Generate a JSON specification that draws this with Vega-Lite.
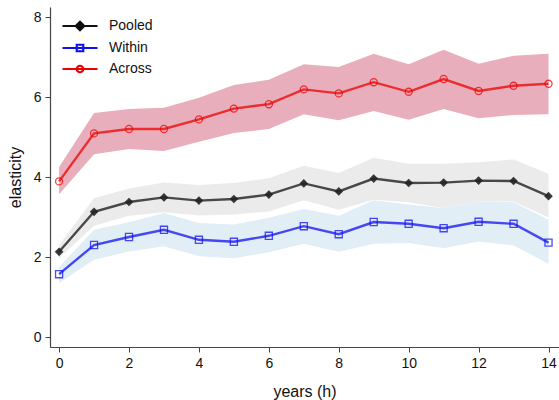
{
  "$schema": "https://vega.github.io/schema/vega-lite/v6.json",
  "width": 509,
  "height": 340,
  "autosize": "none",
  "padding": {"left": 50, "top": 7, "right": 0, "bottom": 53},
  "background": "white",
  "config": {
    "font": "Liberation Sans",
    "view": {"stroke": null},
    "axis": {"grid": false, "domainColor": "#444", "tickColor": "#444", "labelColor": "#111", "titleColor": "#111", "labelFontSize": 14, "titleFontSize": 16, "titleFontWeight": "normal", "tickSize": 5, "domainWidth": 1.2}
  },
  "data": {"values": [
    {"h":0,"s":"Across","est":3.89,"lo":3.57,"hi":4.25},
    {"h":1,"s":"Across","est":5.09,"lo":4.57,"hi":5.6},
    {"h":2,"s":"Across","est":5.2,"lo":4.7,"hi":5.7},
    {"h":3,"s":"Across","est":5.2,"lo":4.65,"hi":5.73},
    {"h":4,"s":"Across","est":5.44,"lo":4.88,"hi":5.98},
    {"h":5,"s":"Across","est":5.71,"lo":5.1,"hi":6.3},
    {"h":6,"s":"Across","est":5.82,"lo":5.2,"hi":6.43},
    {"h":7,"s":"Across","est":6.19,"lo":5.57,"hi":6.82},
    {"h":8,"s":"Across","est":6.09,"lo":5.42,"hi":6.75},
    {"h":9,"s":"Across","est":6.37,"lo":5.65,"hi":7.08},
    {"h":10,"s":"Across","est":6.13,"lo":5.43,"hi":6.82},
    {"h":11,"s":"Across","est":6.45,"lo":5.7,"hi":7.18},
    {"h":12,"s":"Across","est":6.15,"lo":5.47,"hi":6.83},
    {"h":13,"s":"Across","est":6.28,"lo":5.55,"hi":7.03},
    {"h":14,"s":"Across","est":6.33,"lo":5.57,"hi":7.08},
    {"h":0,"s":"Pooled","est":2.13,"lo":1.97,"hi":2.3},
    {"h":1,"s":"Pooled","est":3.13,"lo":2.78,"hi":3.47},
    {"h":2,"s":"Pooled","est":3.375,"lo":3.03,"hi":3.71},
    {"h":3,"s":"Pooled","est":3.49,"lo":3.12,"hi":3.86},
    {"h":4,"s":"Pooled","est":3.41,"lo":3.04,"hi":3.8},
    {"h":5,"s":"Pooled","est":3.45,"lo":3.06,"hi":3.85},
    {"h":6,"s":"Pooled","est":3.56,"lo":3.14,"hi":3.97},
    {"h":7,"s":"Pooled","est":3.84,"lo":3.42,"hi":4.28},
    {"h":8,"s":"Pooled","est":3.64,"lo":3.18,"hi":4.1},
    {"h":9,"s":"Pooled","est":3.96,"lo":3.43,"hi":4.48},
    {"h":10,"s":"Pooled","est":3.85,"lo":3.37,"hi":4.33},
    {"h":11,"s":"Pooled","est":3.86,"lo":3.22,"hi":4.33},
    {"h":12,"s":"Pooled","est":3.91,"lo":3.39,"hi":4.37},
    {"h":13,"s":"Pooled","est":3.9,"lo":3.39,"hi":4.44},
    {"h":14,"s":"Pooled","est":3.52,"lo":2.99,"hi":4.08},
    {"h":0,"s":"Within","est":1.57,"lo":1.35,"hi":1.75},
    {"h":1,"s":"Within","est":2.3,"lo":1.93,"hi":2.68},
    {"h":2,"s":"Within","est":2.5,"lo":2.14,"hi":2.87},
    {"h":3,"s":"Within","est":2.68,"lo":2.27,"hi":3.1},
    {"h":4,"s":"Within","est":2.43,"lo":2.02,"hi":2.85},
    {"h":5,"s":"Within","est":2.38,"lo":1.97,"hi":2.81},
    {"h":6,"s":"Within","est":2.53,"lo":2.12,"hi":2.98},
    {"h":7,"s":"Within","est":2.77,"lo":2.33,"hi":3.2},
    {"h":8,"s":"Within","est":2.57,"lo":2.13,"hi":3.03},
    {"h":9,"s":"Within","est":2.875,"lo":2.33,"hi":3.42},
    {"h":10,"s":"Within","est":2.83,"lo":2.35,"hi":3.31},
    {"h":11,"s":"Within","est":2.72,"lo":2.22,"hi":3.22},
    {"h":12,"s":"Within","est":2.88,"lo":2.39,"hi":3.39},
    {"h":13,"s":"Within","est":2.83,"lo":2.29,"hi":3.37},
    {"h":14,"s":"Within","est":2.36,"lo":1.83,"hi":2.93}
  ]},
  "encoding": {
    "x": {"field": "h", "type": "quantitative", "scale": {"domain": [-0.26, 14.3], "nice": false, "zero": false}, "axis": {"values": [0,2,4,6,8,10,12,14], "title": "years (h)", "titlePadding": 13, "labelPadding": 4}}
  },
  "layer": [
    {
      "mark": {"type": "area", "opacity": 1},
      "encoding": {
        "y": {"field": "lo", "type": "quantitative", "scale": {"domain": [-0.25, 8.25], "nice": false, "zero": false}, "axis": {"values": [0,2,4,6,8], "title": "elasticity", "titlePadding": 10, "labelPadding": 4}},
        "y2": {"field": "hi"},
        "fill": {"field": "s", "type": "nominal", "scale": {"domain": ["Across","Pooled","Within"], "range": ["#e9aebb","#ebebeb","#e1eef5"]}, "legend": null}
      }
    },
    {
      "mark": {"type": "line", "strokeWidth": 2.4, "strokeOpacity": 0.75},
      "encoding": {
        "y": {"field": "est", "type": "quantitative"},
        "stroke": {"field": "s", "type": "nominal", "sort": ["Pooled","Within","Across"], "scale": {"domain": ["Pooled","Within","Across"], "range": ["#111111","#1010f0","#ee0000"]},
          "legend": {
            "title": null, "orient": "top-left", "offset": 12, "padding": 0,
            "labelFontSize": 14, "labelColor": "#111", "labelOffset": 33,
            "symbolSize": 100, "symbolStrokeWidth": 2.2, "rowPadding": 5,
            "encode": {"symbols": {"update": {
              "shape": {"signal": "datum.value === 'Pooled' ? 'M-3.5,0H3.5M0,-0.85L0.85,0L0,0.85L-0.85,0Z' : datum.value === 'Within' ? 'M-3.5,0H3.5M-0.65,-0.65H0.65V0.65H-0.65Z' : 'M-3.5,0H3.5M0.65,0A0.65,0.65 0 1,1 -0.65,0A0.65,0.65 0 1,1 0.65,0'"},
              "fill": {"signal": "datum.value === 'Pooled' ? 'black' : 'transparent'"},
              "strokeOpacity": {"value": 1},
              "opacity": {"value": 1},
              "x": {"value": 18}
            }}}
          }
        }
      }
    },
    {
      "transform": [{"filter": "datum.s === 'Pooled'"}],
      "mark": {"type": "point", "shape": "diamond", "filled": true, "size": 75, "color": "#222", "opacity": 0.9},
      "encoding": {"y": {"field": "est", "type": "quantitative"}}
    },
    {
      "transform": [{"filter": "datum.s !== 'Pooled'"}],
      "mark": {"type": "point", "filled": false, "size": 50, "strokeWidth": 1.3, "opacity": 0.75},
      "encoding": {
        "y": {"field": "est", "type": "quantitative"},
        "shape": {"field": "s", "type": "nominal", "scale": {"domain": ["Within","Across"], "range": ["square","circle"]}, "legend": null},
        "stroke": {"field": "s", "type": "nominal"}
      }
    }
  ]
}
